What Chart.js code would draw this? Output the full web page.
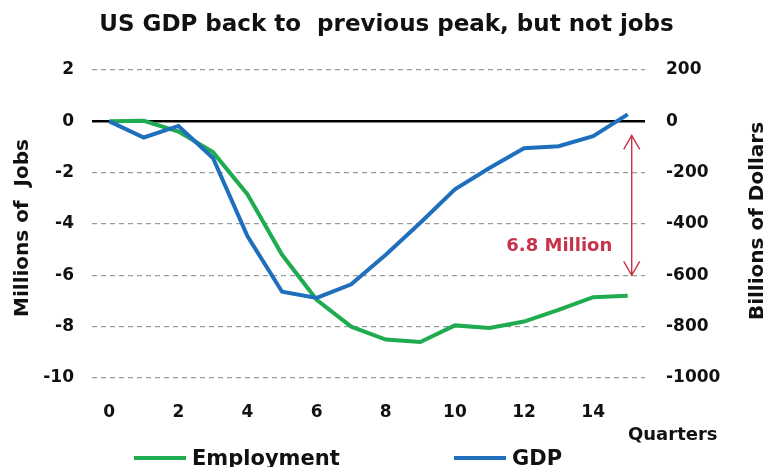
<!DOCTYPE html>
<html>
<head>
<meta charset="utf-8">
<script src="https://cdn.jsdelivr.net/npm/chart.js@4/dist/chart.umd.min.js"></script>
<style>
  html, body { margin: 0; padding: 0; background: #fff; }
  #wrap { width: 773px; height: 467px; }
</style>
</head>
<body>
<div id="wrap"><canvas id="c" width="773" height="467"></canvas></div>
<script>
// ---- data ----
const quarters = ['0','1','2','3','4','5','6','7','8','9','10','11','12','13','14','15'];
const employment = [0, 0.02, -0.4, -1.2, -2.85, -5.2, -6.95, -8.0, -8.5, -8.6, -7.95, -8.05, -7.8, -7.35, -6.85, -6.8];
const gdp = [0, -63, -18, -143, -448, -664, -688, -635, -520, -395, -265, -182, -105, -97, -58, 27];
const jobsTicks = [2, 0, -2, -4, -6, -8, -10];
const dollarTicks = [200, 0, -200, -400, -600, -800, -1000];
const titleText = 'US GDP back to  previous peak, but not jobs';
const leftTitle = 'Millions of  Jobs';
const rightTitle = 'Billions of Dollars';
const xTitle = 'Quarters';
const gapLabel = '6.8 Million';
const gapQuarter = 15;
const gapFrom = -0.55;
const gapTo = -6.0;
const gapLabelValue = -4.86;
const gapLabelQuarter = 13.02;

const FONT = '"DejaVu Sans", Verdana, sans-serif';
const GREEN = '#1fab4f';
const BLUE = '#1f6fbd';
const RED = '#c8324a';

const extras = {
  id: 'extras',
  afterDraw(chart) {
    const ctx = chart.ctx;
    const x = chart.scales.x, y = chart.scales.y;
    const area = chart.chartArea;
    ctx.save();
    ctx.fillStyle = '#111';
    ctx.font = 'bold 20px ' + FONT;
    ctx.textAlign = 'center';
    ctx.textBaseline = 'middle';
    // left axis title
    ctx.save();
    ctx.translate(23, 228);
    ctx.rotate(-Math.PI / 2);
    ctx.fillText(leftTitle, 0, 0);
    ctx.restore();
    // right axis title
    ctx.save();
    ctx.translate(758, 221);
    ctx.rotate(-Math.PI / 2);
    ctx.fillText(rightTitle, 0, 0);
    ctx.restore();
    // x axis title
    ctx.font = 'bold 18px ' + FONT;
    ctx.textAlign = 'left';
    ctx.textBaseline = 'alphabetic';
    ctx.fillText(xTitle, 628, 440);
    // gap arrow
    const ax = x.getPixelForValue(gapQuarter) + 4;
    const y1 = y.getPixelForValue(gapFrom), y2 = y.getPixelForValue(gapTo);
    ctx.strokeStyle = RED;
    ctx.lineWidth = 1.4;
    ctx.beginPath();
    ctx.moveTo(ax, y1); ctx.lineTo(ax, y2);
    ctx.moveTo(ax - 8, y1 + 14); ctx.lineTo(ax, y1); ctx.lineTo(ax + 8, y1 + 14);
    ctx.moveTo(ax - 8, y2 - 14); ctx.lineTo(ax, y2); ctx.lineTo(ax + 8, y2 - 14);
    ctx.stroke();
    ctx.fillStyle = RED;
    ctx.font = 'bold 18px ' + FONT;
    ctx.textAlign = 'center';
    ctx.textBaseline = 'middle';
    ctx.fillText(gapLabel, x.getPixelForValue(gapLabelQuarter), y.getPixelForValue(gapLabelValue));
    // legend
    const items = [[GREEN, 'Employment', 134], [BLUE, 'GDP', 454]];
    ctx.font = 'bold 21px ' + FONT;
    ctx.textAlign = 'left';
    ctx.textBaseline = 'alphabetic';
    items.forEach(([col, txt, lx]) => {
      ctx.strokeStyle = col;
      ctx.lineWidth = 4;
      ctx.beginPath();
      ctx.moveTo(lx, 458); ctx.lineTo(lx + 52, 458);
      ctx.stroke();
      ctx.fillStyle = '#111';
      ctx.fillText(txt, lx + 58, 465);
    });
    ctx.restore();
  }
};

new Chart(document.getElementById('c'), {
  type: 'line',
  data: {
    labels: quarters,
    datasets: [
      { label: 'Employment', data: employment, yAxisID: 'y', borderColor: GREEN, backgroundColor: GREEN,
        borderWidth: 4, pointRadius: 0, tension: 0, order: 2 },
      { label: 'GDP', data: gdp, yAxisID: 'y1', borderColor: BLUE, backgroundColor: BLUE,
        borderWidth: 4, pointRadius: 0, tension: 0, order: 1 }
    ]
  },
  options: {
    responsive: false,
    animation: false,
    layout: { padding: 0 },
    plugins: {
      legend: { display: false },
      tooltip: { enabled: false },
      title: {
        display: true, text: titleText, color: '#111',
        font: { family: FONT, size: 23, weight: 'bold' },
        padding: { top: 11, bottom: 31.4 }
      }
    },
    scales: {
      x: {
        type: 'category', offset: true,
        grid: { display: false, drawTicks: false },
        border: { display: false },
        ticks: {
          color: '#111', font: { family: FONT, size: 17, weight: 'bold' }, padding: 24,
          autoSkip: false, maxRotation: 0,
          callback: function (v, i) { return i % 2 === 0 ? this.getLabelForValue(v) : ''; }
        },
        afterFit: s => { s.height = 89; }
      },
      y: {
        position: 'left', min: -10, max: 2,
        afterBuildTicks: s => { s.ticks = jobsTicks.map(v => ({ value: v })); },
        grid: {
          drawTicks: false,
          color: c => (c.tick && c.tick.value === 0) ? '#000' : '#9a9a9a',
          lineWidth: c => (c.tick && c.tick.value === 0) ? 2.5 : 1.3
        },
        border: { display: false, dash: c => (c.tick && c.tick.value === 0) ? [] : [5, 4] },
        ticks: { color: '#111', font: { family: FONT, size: 17, weight: 'bold' }, padding: 18,
          callback: v => String(v) },
        afterFit: s => { s.width = 92; }
      },
      y1: {
        position: 'right', min: -1000, max: 200,
        afterBuildTicks: s => { s.ticks = dollarTicks.map(v => ({ value: v })); },
        grid: { display: false, drawTicks: false },
        border: { display: false },
        ticks: { color: '#111', font: { family: FONT, size: 17, weight: 'bold' }, padding: 21,
          callback: v => String(v) },
        afterFit: s => { s.width = 128; }
      }
    }
  },
  plugins: [extras]
});
</script>
</body>
</html>
